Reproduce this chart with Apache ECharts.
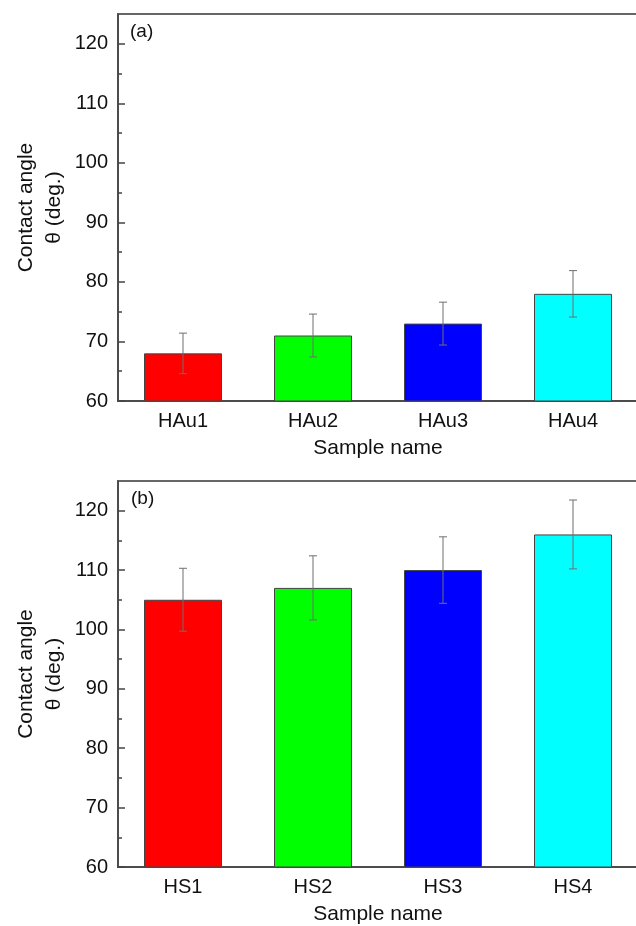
<!DOCTYPE html>
<html>
<head>
<meta charset="UTF-8">
<title>Contact angle</title>
<script type="text/javascript" src="https://cdn.jsdelivr.net/npm/echarts@6/dist/echarts.min.js"></script>
</head>
<body style="margin:0;background:#fff;">
	<div id="chart" style="width: 636px; height: 926px;"></div>

	<script type="text/javascript">
	// data
	var hauNames = ['HAu1', 'HAu2', 'HAu3', 'HAu4'];
	var hauMean = [68, 71, 73, 78];
	var hauErr = [3.4, 3.6, 3.6, 3.9];

	var hsNames = ['HS1', 'HS2', 'HS3', 'HS4'];
	var hsMean = [105, 107, 110, 116];
	var hsErr = [5.3, 5.4, 5.6, 5.8];

	var barColors = ['#ff0000', '#00ff00', '#0000ff', '#00ffff'];
	var majorTicks = [60, 70, 80, 90, 100, 110, 120];
	var minorTicks = [65, 75, 85, 95, 105, 115];

	var font = 'Liberation Sans, Arial, sans-serif';
	var axisColor = '#444';

	function barData(mean) {
		var arr = [];
		for (var i = 0; i < mean.length; i++) {
			arr.push({ value: mean[i], itemStyle: { color: barColors[i] } });
		}
		return arr;
	}

	function errData(mean, err) {
		var arr = [];
		for (var i = 0; i < mean.length; i++) {
			arr.push([i, mean[i] - err[i], mean[i] + err[i]]);
		}
		return arr;
	}

	function renderErr(params, api) {
		var lo = api.coord([api.value(0), api.value(1)]);
		var hi = api.coord([api.value(0), api.value(2)]);
		var w = 4;
		var st = { stroke: '#6f6f6f', lineWidth: 1 };
		return {
			type: 'group',
			children: [
				{ type: 'line', shape: { x1: hi[0], y1: hi[1], x2: lo[0], y2: lo[1] }, style: st },
				{ type: 'line', shape: { x1: hi[0] - w, y1: hi[1], x2: hi[0] + w, y2: hi[1] }, style: st },
				{ type: 'line', shape: { x1: lo[0] - w, y1: lo[1], x2: lo[0] + w, y2: lo[1] }, style: st }
			]
		};
	}

	function xAxisFor(names, grid) {
		return {
			type: 'category',
			gridIndex: grid,
			data: names,
			name: 'Sample name',
			nameLocation: 'middle',
			nameGap: 37,
			nameMoveOverlap: false,
			nameTextStyle: { fontFamily: font, fontSize: 21, color: '#111' },
			axisLine: { lineStyle: { color: axisColor, width: 1.5 } },
			axisTick: { alignWithLabel: true, length: 6, lineStyle: { color: axisColor, width: 1.5 } },
			axisLabel: { margin: 10, fontFamily: font, fontSize: 20, color: '#111' },
			splitLine: { show: false }
		};
	}

	function yAxisMain(grid) {
		return {
			type: 'value',
			gridIndex: grid,
			position: 'left',
			min: 60,
			max: 125,
			interval: 10,
			name: 'Contact angle\nθ (deg.)',
			nameLocation: 'middle',
			nameRotate: 90,
			nameGap: 50,
			nameMoveOverlap: false,
			nameTextStyle: { fontFamily: font, fontSize: 21, lineHeight: 28, color: '#111', align: 'center' },
			axisLine: { show: true, lineStyle: { color: axisColor, width: 1.5 } },
			axisTick: { show: true, inside: true, length: 7, customValues: majorTicks, lineStyle: { color: axisColor, width: 1.5 } },
			axisLabel: { margin: 10, customValues: majorTicks, fontFamily: font, fontSize: 20, color: '#111' },
			splitLine: { show: false }
		};
	}

	function yAxisMinor(grid) {
		return {
			type: 'value',
			gridIndex: grid,
			position: 'left',
			offset: 0,
			min: 60,
			max: 125,
			interval: 10,
			axisLine: { show: false },
			axisTick: { show: true, inside: true, length: 4, customValues: minorTicks, lineStyle: { color: axisColor, width: 1.5 } },
			axisLabel: { show: false },
			splitLine: { show: false }
		};
	}

	var chart = echarts.init(document.getElementById('chart'));

	var option = {
		animation: false,
		backgroundColor: '#fff',
		grid: [
			{ left: 118, width: 520, top: 14, height: 387, outerBoundsMode: 'none', show: true, borderColor: '#666', borderWidth: 2, backgroundColor: 'transparent' },
			{ left: 118, width: 520, top: 481, height: 386, outerBoundsMode: 'none', show: true, borderColor: '#666', borderWidth: 2, backgroundColor: 'transparent' }
		],
		graphic: [
			{ type: 'text', left: 130, top: 22, style: { text: '(a)', font: '19px ' + font, fill: '#111' } },
			{ type: 'text', left: 131, top: 489, style: { text: '(b)', font: '19px ' + font, fill: '#111' } }
		],
		xAxis: [xAxisFor(hauNames, 0), xAxisFor(hsNames, 1)],
		yAxis: [yAxisMain(0), yAxisMain(1), yAxisMinor(0), yAxisMinor(1)],
		series: [
			{
				type: 'bar',
				xAxisIndex: 0,
				yAxisIndex: 0,
				barCategoryGap: '40%',
				data: barData(hauMean),
				itemStyle: { borderColor: '#444', borderWidth: 1 }
			},
			{
				type: 'custom',
				xAxisIndex: 0,
				yAxisIndex: 0,
				renderItem: renderErr,
				data: errData(hauMean, hauErr),
				z: 5
			},
			{
				type: 'bar',
				xAxisIndex: 1,
				yAxisIndex: 1,
				barCategoryGap: '40%',
				data: barData(hsMean),
				itemStyle: { borderColor: '#444', borderWidth: 1 }
			},
			{
				type: 'custom',
				xAxisIndex: 1,
				yAxisIndex: 1,
				renderItem: renderErr,
				data: errData(hsMean, hsErr),
				z: 5
			}
		]
	};

	chart.setOption(option);
	</script>
</body>
</html>
